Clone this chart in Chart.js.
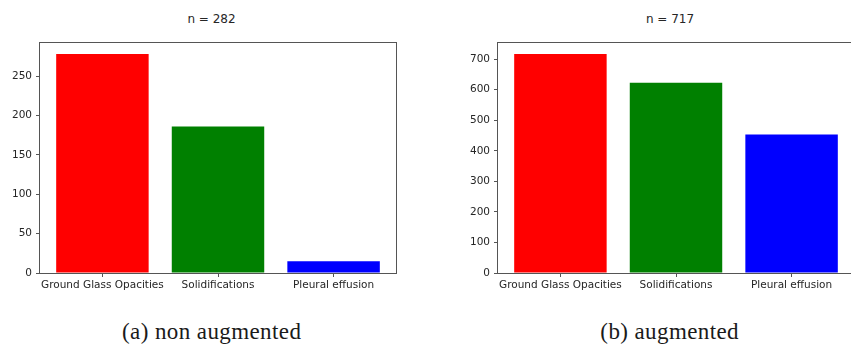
<!DOCTYPE html>
<html>
<head>
<meta charset="utf-8">
<script src="https://cdn.jsdelivr.net/npm/chart.js@4/dist/chart.umd.min.js"></script>
<style>
  html, body { margin: 0; padding: 0; background: #ffffff; }
  body { width: 851px; height: 349px; overflow: hidden; position: relative; }
  canvas { position: absolute; top: 0; }
  .title {
    position: absolute; width: 200px; text-align: center;
    font: 12px/14px "DejaVu Sans", sans-serif; color: #262626;
  }
  .caption {
    position: absolute; width: 300px; text-align: center;
    font: 23px/26px "Liberation Serif", serif; color: #1a1a1a; letter-spacing: 0.4px;
  }
</style>
</head>
<body>
<div class="title" style="left:111.5px; top:11.5px;">n = 282</div>
<div class="title" style="left:570px; top:11.5px;">n = 717</div>
<canvas id="nonAugmented" width="430" height="300" style="left:0px;"></canvas>
<canvas id="augmented" width="430" height="300" style="left:430px;"></canvas>
<div class="caption" style="left:61.7px; top:319px;">(a) non augmented</div>
<div class="caption" style="left:519.7px; top:319px;">(b) augmented</div>
<script>
// Finding classes and their counts
const categories = ['Ground Glass Opacities', 'Solidifications', 'Pleural effusion'];
const barColors = ['#ff0000', '#008000', '#0000ff'];

const countsNonAugmented = [278, 186, 15];
const countsAugmented = [717, 623, 453];

const yTicksNonAugmented = [0, 50, 100, 150, 200, 250];
const yTicksAugmented = [0, 100, 200, 300, 400, 500, 600, 700];

// axis limits (5% headroom above the tallest bar)
const yMaxNonAugmented = 291.9;
const yMaxAugmented = 752.85;
const xMin = -0.54, xMax = 2.54;

const TEXT = '#262626';
const SPINE = '#555555';

// full rectangular frame around the plotting area
const frame = {
  id: 'frame',
  afterDatasetsDraw(chart) {
    const a = chart.chartArea, ctx = chart.ctx;
    ctx.save();
    ctx.strokeStyle = SPINE;
    ctx.lineWidth = 1;
    const l = Math.round(a.left) - 0.5, r = Math.round(a.right) + 0.5;
    const t = Math.round(a.top) - 0.5, b = Math.round(a.bottom) + 0.5;
    ctx.strokeRect(l, t, r - l, b - t);
    ctx.restore();
  }
};

function makeChart(id, values, yTicks, yMax, yAxisWidth, rightPad) {
  const canvas = document.getElementById(id);
  const H = canvas.height;
  const bottom = 273;
  return new Chart(canvas, {
    type: 'bar',
    data: {
      datasets: [{
        data: values.map((v, i) => ({ x: i, y: v })),
        backgroundColor: barColors,
        borderWidth: 0,
        barPercentage: 0.8,
        categoryPercentage: 1.0
      }]
    },
    options: {
      responsive: false,
      animation: false,
      devicePixelRatio: 1,
      layout: { padding: { left: 0, top: 43, right: rightPad, bottom: 0 } },
      plugins: { legend: { display: false }, tooltip: { enabled: false }, title: { display: false } },
      scales: {
        x: {
          type: 'linear',
          min: xMin,
          max: xMax,
          offset: false,
          afterBuildTicks: s => { s.ticks = categories.map((_, i) => ({ value: i })); },
          afterFit: s => { s.height = H - bottom; },
          border: { display: false },
          grid: { display: true, offset: false, drawOnChartArea: false, drawTicks: true, tickLength: 4, color: SPINE, lineWidth: 1 },
          ticks: {
            callback: v => categories[v] ?? '',
            autoSkip: false, maxRotation: 0, minRotation: 0,
            padding: 2,
            color: TEXT,
            font: { family: 'DejaVu Sans', size: 10.5 }
          }
        },
        y: {
          type: 'linear',
          min: 0,
          max: yMax,
          afterBuildTicks: s => { s.ticks = yTicks.map(v => ({ value: v })); },
          afterFit: s => { s.width = yAxisWidth; },
          border: { display: false },
          grid: { display: true, offset: false, drawOnChartArea: false, drawTicks: true, tickLength: 4, color: SPINE, lineWidth: 1 },
          ticks: {
            padding: 4,
            color: TEXT,
            font: { family: 'DejaVu Sans', size: 10.5 }
          }
        }
      }
    },
    plugins: [frame]
  });
}

makeChart('nonAugmented', countsNonAugmented, yTicksNonAugmented, yMaxNonAugmented, 40, 34);
makeChart('augmented', countsAugmented, yTicksAugmented, yMaxAugmented, 68, 6);
</script>
</body>
</html>
